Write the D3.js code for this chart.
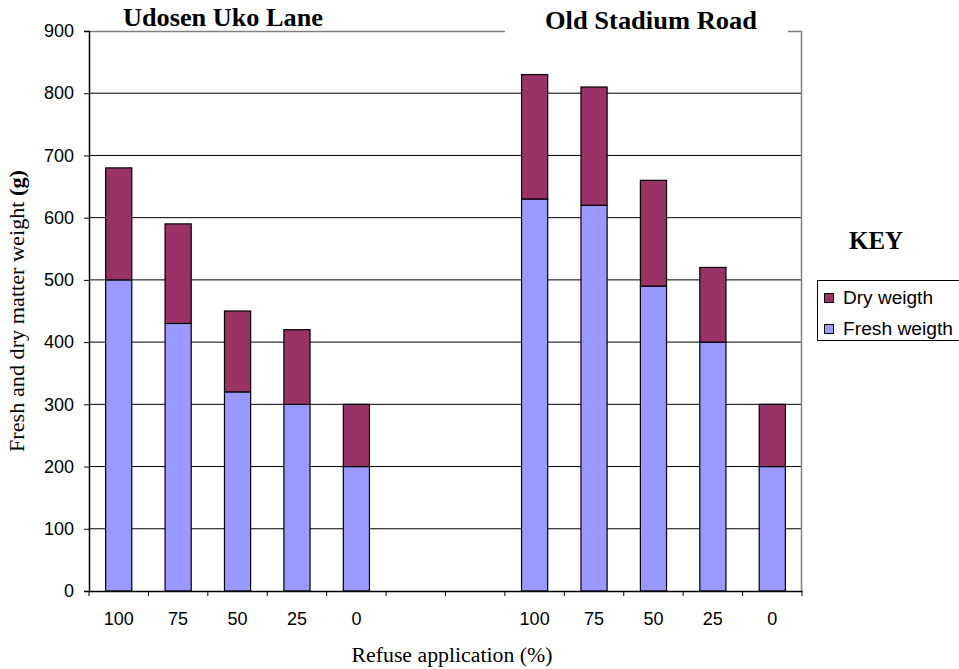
<!DOCTYPE html>
<html>
<head>
<meta charset="utf-8">
<script src="https://cdn.jsdelivr.net/npm/d3@7"></script>
<style>
  body { margin: 0; background: #fff; }
  .tick text { font-family: Arial, "Liberation Sans", sans-serif; font-size: 18px; fill: #000; }
  .serif { font-family: "Times New Roman", "Liberation Serif", serif; }
</style>
</head>
<body>
<div class="chart"></div>
<script>
// chart data
var categories = ["u100", "u75", "u50", "u25", "u0", "gap1", "gap2", "o100", "o75", "o50", "o25", "o0"];
var tickLabels = ["100", "75", "50", "25", "0", "", "", "100", "75", "50", "25", "0"];
var freshWeight = [500, 430, 320, 300, 200, null, null, 630, 620, 490, 400, 200];
var dryWeight = [180, 160, 130, 120, 100, null, null, 200, 190, 170, 120, 100];
var seriesNames = ["Dry weigth", "Fresh weigth"];
var yTicks = [0, 100, 200, 300, 400, 500, 600, 700, 800, 900];

var svgWidth = 959;
var svgHeight = 669;
var margin = { top: 31, right: 157, bottom: 78, left: 89 };
var width = svgWidth - margin.left - margin.right;
var height = svgHeight - margin.top - margin.bottom;

var colors = { fresh: "#9999ff", dry: "#993366" };

var svg = d3.select(".chart")
  .append("svg")
  .attr("width", svgWidth)
  .attr("height", svgHeight);

var chartGroup = svg.append("g")
  .attr("transform", `translate(${margin.left},${margin.top})`);

var xScale = d3.scaleBand()
  .domain(categories)
  .range([0, width])
  .paddingInner(0.56)
  .paddingOuter(0.28);

var yScale = d3.scaleLinear()
  .domain([0, 900])
  .range([height, 0]);

// gridlines
chartGroup.append("g")
  .selectAll("line")
  .data(yTicks.slice(1, -1))
  .enter()
  .append("line")
  .attr("x1", 0)
  .attr("x2", width)
  .attr("y1", d => yScale(d))
  .attr("y2", d => yScale(d))
  .attr("stroke", "#000")
  .attr("stroke-width", 1);

// plot border top / right
chartGroup.append("path")
  .attr("d", `M0,0.5H${width - 0.5}V${height}`)
  .attr("fill", "none")
  .attr("stroke", "#808080")
  .attr("stroke-width", 1.5);

// rows for stacking
var rows = categories.map(function(c, i) {
  return { cat: c, fresh: freshWeight[i], dry: dryWeight[i] };
}).filter(d => d.fresh != null);

// fresh bars
chartGroup.selectAll(".fresh")
  .data(rows)
  .enter()
  .append("rect")
  .attr("class", "fresh")
  .attr("x", d => xScale(d.cat))
  .attr("width", xScale.bandwidth())
  .attr("y", d => yScale(d.fresh))
  .attr("height", d => yScale(0) - yScale(d.fresh))
  .attr("fill", colors.fresh)
  .attr("stroke", "#000")
  .attr("stroke-width", 1.2);

// dry bars stacked on top
chartGroup.selectAll(".dry")
  .data(rows)
  .enter()
  .append("rect")
  .attr("class", "dry")
  .attr("x", d => xScale(d.cat))
  .attr("width", xScale.bandwidth())
  .attr("y", d => yScale(d.fresh + d.dry))
  .attr("height", d => yScale(d.fresh) - yScale(d.fresh + d.dry))
  .attr("fill", colors.dry)
  .attr("stroke", "#000")
  .attr("stroke-width", 1.2);

// y axis
var leftAxis = d3.axisLeft(yScale).tickValues(yTicks).tickSize(5).tickPadding(10);
var yAxisG = chartGroup.append("g").call(leftAxis);
yAxisG.select(".domain").attr("stroke", "#000").attr("stroke-width", 1.5);

// x axis: ticks on category boundaries
var bottomAxis = d3.axisBottom(xScale).tickSize(0).tickPadding(21)
  .tickFormat((d, i) => tickLabels[i]);
var xAxisG = chartGroup.append("g")
  .attr("transform", `translate(0, ${height})`)
  .call(bottomAxis);
xAxisG.select(".domain").attr("stroke", "#000").attr("stroke-width", 1.5);
xAxisG.selectAll(".bound")
  .data(d3.range(categories.length + 1))
  .enter()
  .append("line")
  .attr("class", "bound")
  .attr("x1", i => i * xScale.step())
  .attr("x2", i => i * xScale.step())
  .attr("y1", 0)
  .attr("y2", 5)
  .attr("stroke", "#000");

// group titles
chartGroup.append("text")
  .attr("class", "serif")
  .attr("x", 134)
  .attr("y", -5)
  .attr("text-anchor", "middle")
  .attr("textLength", 200)
  .attr("lengthAdjust", "spacingAndGlyphs")
  .style("font-size", "25px")
  .style("font-weight", "bold")
  .text("Udosen Uko Lane");

chartGroup.append("rect")
  .attr("x", xScale.step() * 7)
  .attr("y", -8)
  .attr("width", 283)
  .attr("height", 12)
  .attr("fill", "#fff");

chartGroup.append("text")
  .attr("class", "serif")
  .attr("x", 562)
  .attr("y", -2)
  .attr("text-anchor", "middle")
  .attr("textLength", 212)
  .attr("lengthAdjust", "spacingAndGlyphs")
  .style("font-size", "25px")
  .style("font-weight", "bold")
  .text("Old Stadium Road");

// axis titles
var yTitle = svg.append("text")
  .attr("class", "serif")
  .attr("transform", `translate(24, 311) rotate(-90)`)
  .attr("text-anchor", "middle")
  .attr("textLength", 282)
  .attr("lengthAdjust", "spacingAndGlyphs")
  .style("font-size", "20px");
yTitle.append("tspan").text("Fresh and dry matter weight ");
yTitle.append("tspan").style("font-weight", "bold").text("(g)");

svg.append("text")
  .attr("class", "serif")
  .attr("x", 452)
  .attr("y", 662)
  .attr("text-anchor", "middle")
  .attr("textLength", 201)
  .attr("lengthAdjust", "spacingAndGlyphs")
  .style("font-size", "20px")
  .text("Refuse application (%)");

// legend
svg.append("text")
  .attr("class", "serif")
  .attr("x", 876)
  .attr("y", 249)
  .attr("text-anchor", "middle")
  .attr("textLength", 54)
  .attr("lengthAdjust", "spacingAndGlyphs")
  .style("font-size", "25px")
  .style("font-weight", "bold")
  .text("KEY");

var legend = svg.append("g").attr("transform", "translate(817, 280)");
legend.append("rect")
  .attr("x", 0.5).attr("y", 0.5)
  .attr("width", 150).attr("height", 60)
  .attr("fill", "#fff")
  .attr("stroke", "#000");

var legendWidths = [90, 110];
var legendItems = legend.selectAll(".item")
  .data(seriesNames)
  .enter()
  .append("g")
  .attr("transform", (d, i) => `translate(7, ${18 + i * 31})`);

legendItems.append("rect")
  .attr("x", 0.5).attr("y", -4.5)
  .attr("width", 9).attr("height", 9)
  .attr("fill", (d, i) => i === 0 ? colors.dry : colors.fresh)
  .attr("stroke", "#000");

legendItems.append("text")
  .attr("x", 19)
  .attr("y", 6)
  .attr("textLength", (d, i) => legendWidths[i])
  .attr("lengthAdjust", "spacingAndGlyphs")
  .style("font-family", "Arial, 'Liberation Sans', sans-serif")
  .style("font-size", "18px")
  .text(d => d);
</script>
</body>
</html>
